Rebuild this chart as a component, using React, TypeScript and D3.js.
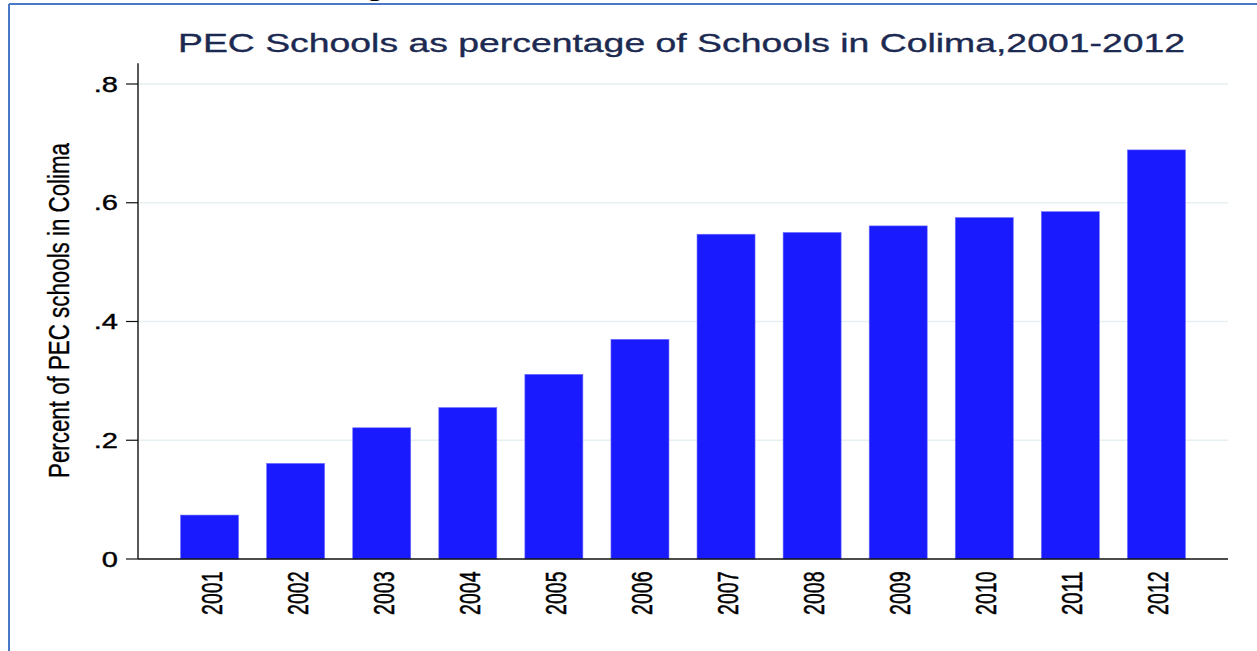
import React from "react";
import * as d3 from "d3";

const years = ["2001","2002","2003","2004","2005","2006","2007","2008","2009","2010","2011","2012"];
const values = [0.074,0.161,0.221,0.255,0.311,0.370,0.547,0.550,0.561,0.575,0.585,0.689];
const yTicks = [0, 0.2, 0.4, 0.6, 0.8];
const title = "PEC Schools as percentage of Schools in Colima,2001-2012";
const yLabel = "Percent of PEC schools in Colima";

const W = 1257, H = 651;
const SX = 1.35; // horizontal stretch of the original picture
const FONT = "'Liberation Sans', Arial, Helvetica, sans-serif";

export default function App() {
  const x = d3.scaleBand<string>().domain(years).range([138, 1228]).paddingInner(0.326).paddingOuter(0.4945);
  const y = d3.scaleLinear().domain([0, 0.8]).range([559, 84]);
  const fmt = (v: number) => (v === 0 ? "0" : d3.format(".1f")(v).replace(/^0/, ""));
  const [x0, x1] = x.range();

  return (
    <svg width={W} height={H} style={{ position: "absolute", left: 0, top: 0, background: "#fff" }} fontFamily={FONT}>
      <rect x={0} y={0} width={W} height={H} fill="#fff" />
      {/* frame */}
      <line x1={9} y1={4} x2={W} y2={4} stroke="#4a78c8" strokeWidth={2} />
      <line x1={9} y1={4} x2={9} y2={H} stroke="#4a78c8" strokeWidth={2} />
      <text transform={`translate(366,-4) scale(${SX},1)`} fontSize={22} fontWeight="bold" fill="#000">g</text>

      {/* title */}
      <text transform={`translate(681.5,52) scale(${SX},1)`} textAnchor="middle" fontSize={26.5} fill="#1c2a52"
        stroke="#1c2a52" strokeWidth={0.35}
        textLength={1007 / SX} lengthAdjust="spacingAndGlyphs">{title}</text>

      {/* gridlines */}
      {yTicks.filter(t => t > 0).map(t => (
        <line key={t} x1={x0} x2={x1} y1={y(t)} y2={y(t)} stroke="#e6eff1" strokeWidth={1.5} />
      ))}

      {/* bars */}
      {years.map((yr, i) => (
        <rect key={yr} x={x(yr)} y={y(values[i])} width={x.bandwidth()} height={y(0) - y(values[i])}
          fill="#1a1aff" stroke="#6f6fff" strokeWidth={0.6} />
      ))}

      {/* axes */}
      <line x1={x0} x2={x0} y1={y(0.835)} y2={y(0)} stroke="#111" strokeWidth={1.4} />
      <line x1={x0} x2={x1} y1={y(0)} y2={y(0)} stroke="#111" strokeWidth={1.4} />
      {yTicks.map(t => (
        <g key={t}>
          <line x1={x0 - 12} x2={x0} y1={y(t)} y2={y(t)} stroke="#111" strokeWidth={1.2} />
          <text transform={`translate(118,${y(t)}) scale(${SX},1)`} textAnchor="end" dy="0.36em" fontSize={21.5}
            fill="#000" stroke="#000" strokeWidth={0.4}>{fmt(t)}</text>
        </g>
      ))}
      {years.map(yr => (
        <text key={yr} transform={`translate(${x(yr)! + x.bandwidth() / 2 + 1.5},571.5) scale(1.5,1) rotate(-90)`}
          textAnchor="end" dy="0.36em" fontSize={19.5} fill="#000" stroke="#000" strokeWidth={0.35}
          textLength={43.5} lengthAdjust="spacingAndGlyphs">{yr}</text>
      ))}

      {/* y label */}
      <text transform={`translate(69,310.5) scale(1.35,1) rotate(-90)`} textAnchor="middle" fontSize={22.3} fill="#000"
        stroke="#000" strokeWidth={0.25}
        textLength={335} lengthAdjust="spacingAndGlyphs">{yLabel}</text>
    </svg>
  );
}
